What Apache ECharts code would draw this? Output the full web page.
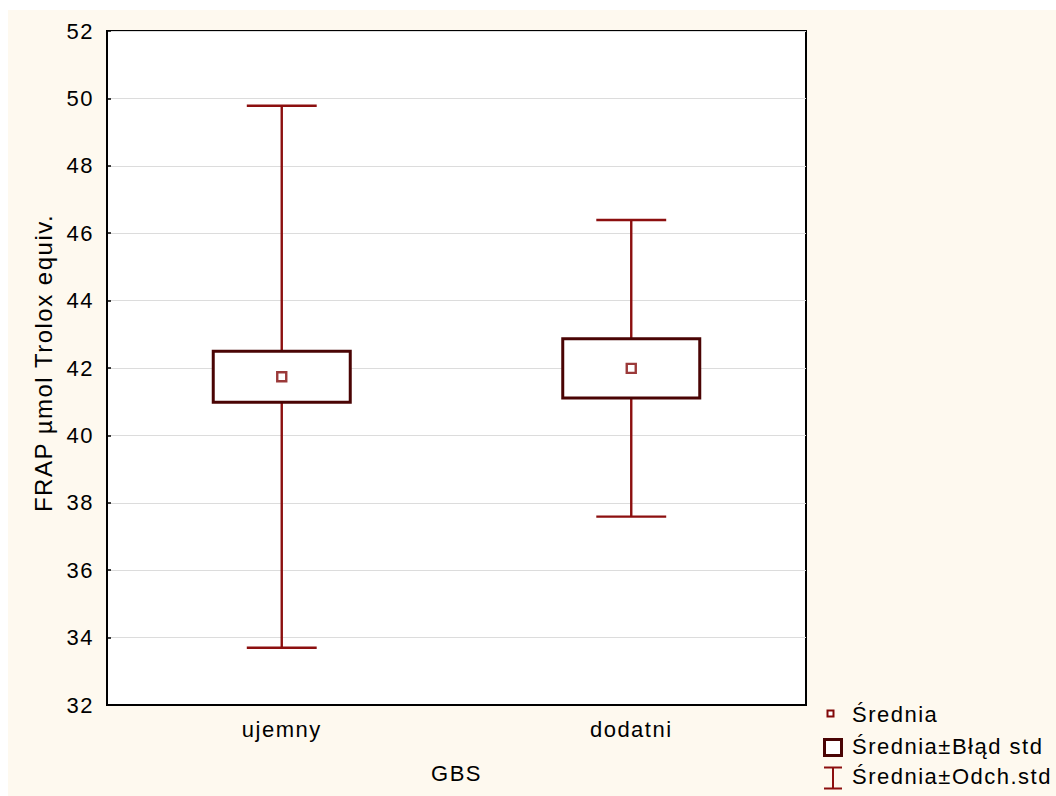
<!DOCTYPE html>
<html>
<head>
<meta charset="utf-8">
<title>FRAP – GBS</title>
<script src="https://cdn.jsdelivr.net/npm/echarts@6/dist/echarts.min.js"></script>
<style>
  html, body { margin: 0; padding: 0; background: #ffffff; }
  #chart {
    position: absolute; left: 8px; top: 10px;
    width: 1048px; height: 786px;
    background: #fef9ef;
  }
  /* Statistica-style text is set slightly spaced out */
  #chart text { letter-spacing: 1.5px; }
</style>
</head>
<body>
<div id="chart"></div>
<script>
// Groups on the x axis
const categories = ['ujemny', 'dodatni'];
// Mean FRAP value per group
const means = [41.74, 41.99];
// Mean ± standard error
const seLow = [40.98, 41.11];
const seHigh = [42.50, 42.87];
// Mean ± standard deviation
const sdLow = [33.70, 37.59];
const sdHigh = [49.78, 46.39];
// Value-axis ticks
const yMin = 32, yMax = 52, yStep = 2;

const FONT = '"Liberation Sans", Arial, sans-serif';
const FS = 22;
const WHISKER = '#8c0f0f';
const BOX = '#4a0404';
const MEAN = '#820808';

const chart = echarts.init(document.getElementById('chart'), null, { renderer: 'svg' });

const option = {
  animation: false,
  textStyle: { fontFamily: FONT, color: '#000' },
  grid: {
    left: 99, top: 21, width: 699, height: 674,
    show: true, backgroundColor: '#ffffff',
    borderColor: '#000', borderWidth: 2
  },
  xAxis: {
    type: 'category',
    data: categories,
    name: 'GBS',
    nameLocation: 'middle',
    nameGap: 57,
    nameTextStyle: { fontSize: FS, color: '#000', fontFamily: FONT },
    axisLine: { lineStyle: { color: '#000', width: 2 } },
    axisTick: { inside: true, alignWithLabel: true, length: 5, lineStyle: { color: '#000', width: 1.5 } },
    axisLabel: { fontSize: FS, color: '#000', margin: 13, fontFamily: FONT },
    splitLine: { show: false }
  },
  yAxis: {
    type: 'value',
    min: yMin, max: yMax, interval: yStep,
    name: 'FRAP µmol Trolox equiv.',
    nameLocation: 'middle',
    nameRotate: 90,
    nameGap: 52,
    nameTextStyle: { fontSize: 24, color: '#000', fontFamily: FONT, padding: [0, 0, 0, 10] },
    axisLine: { show: true, lineStyle: { color: '#000', width: 2 } },
    axisTick: { show: true, inside: true, length: 4, lineStyle: { color: '#000', width: 1.5 } },
    axisLabel: { fontSize: FS, color: '#000', margin: 13, fontFamily: FONT, padding: [0, 0, 4, 0] },
    splitLine: { show: true, lineStyle: { color: '#dcdcdc', width: 1 } }
  },
  series: [
    {
      name: 'Średnia±Odch.std',
      type: 'custom',
      encode: { x: 0, y: [1, 2] },
      data: categories.map((c, i) => [i, sdLow[i], sdHigh[i]]),
      z: 2,
      renderItem: function (params, api) {
        const x = api.value(0);
        const lo = api.coord([x, api.value(1)]);
        const hi = api.coord([x, api.value(2)]);
        const half = api.size([1, 0])[0] * 0.1;
        const style = { stroke: WHISKER, lineWidth: 2.4, fill: 'none' };
        return {
          type: 'group',
          children: [
            { type: 'line', shape: { x1: lo[0], y1: lo[1], x2: hi[0], y2: hi[1] }, style: style },
            { type: 'line', shape: { x1: hi[0] - half, y1: hi[1], x2: hi[0] + half, y2: hi[1] }, style: style },
            { type: 'line', shape: { x1: lo[0] - half, y1: lo[1], x2: lo[0] + half, y2: lo[1] }, style: style }
          ]
        };
      }
    },
    {
      name: 'Średnia±Błąd std',
      type: 'custom',
      encode: { x: 0, y: [1, 2] },
      data: categories.map((c, i) => [i, seLow[i], seHigh[i]]),
      z: 3,
      renderItem: function (params, api) {
        const x = api.value(0);
        const lo = api.coord([x, api.value(1)]);
        const hi = api.coord([x, api.value(2)]);
        const half = api.size([1, 0])[0] * 0.196;
        return {
          type: 'rect',
          shape: { x: lo[0] - half, y: hi[1], width: half * 2, height: lo[1] - hi[1] },
          style: { fill: '#ffffff', stroke: BOX, lineWidth: 3 }
        };
      }
    },
    {
      name: 'Średnia',
      type: 'scatter',
      data: means,
      z: 4,
      symbol: 'rect',
      symbolSize: 9,
      itemStyle: { color: '#ffffff', borderColor: MEAN, borderWidth: 2.4 }
    }
  ],
  graphic: [
    // legend: mean marker
    { type: 'rect', shape: { x: 819.5, y: 700.5, width: 6, height: 6 },
      style: { fill: '#ffffff', stroke: MEAN, lineWidth: 2 } },
    { type: 'text', x: 844, y: 704.7,
      style: { text: 'Średnia', font: FS + 'px ' + FONT, fill: '#000', verticalAlign: 'middle', align: 'left' } },
    // legend: standard-error box
    { type: 'rect', shape: { x: 816.5, y: 729.5, width: 17, height: 16 },
      style: { fill: '#ffffff', stroke: BOX, lineWidth: 3 } },
    { type: 'text', x: 844, y: 736,
      style: { text: 'Średnia±Błąd std', font: FS + 'px ' + FONT, fill: '#000', verticalAlign: 'middle', align: 'left' } },
    // legend: standard-deviation whisker
    { type: 'line', shape: { x1: 825, y1: 757.5, x2: 825, y2: 778.5 }, style: { stroke: WHISKER, lineWidth: 2 } },
    { type: 'line', shape: { x1: 816, y1: 757.5, x2: 834, y2: 757.5 }, style: { stroke: WHISKER, lineWidth: 2 } },
    { type: 'line', shape: { x1: 816, y1: 778.5, x2: 834, y2: 778.5 }, style: { stroke: WHISKER, lineWidth: 2 } },
    { type: 'text', x: 844, y: 766,
      style: { text: 'Średnia±Odch.std', font: FS + 'px ' + FONT, fill: '#000', verticalAlign: 'middle', align: 'left' } }
  ]
};

chart.setOption(option);
</script>
</body>
</html>
